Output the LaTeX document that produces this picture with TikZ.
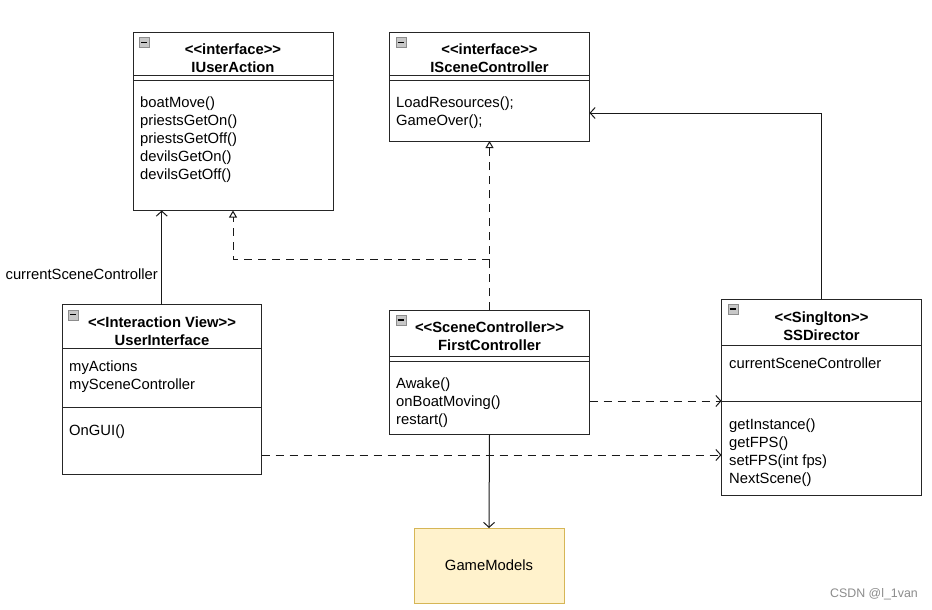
\documentclass[tikz,border=0pt]{standalone}
\usepackage{fontspec}
\setmainfont{Liberation Sans}[Ligatures=ResetAll]
\usetikzlibrary{arrows.meta}
\definecolor{gmfill}{HTML}{FFF2CC}
\definecolor{gmline}{HTML}{D6B656}
\newcommand{\lt}{{<}{<}}
\newcommand{\gtt}{{>}{>}}
\begin{document}
\begin{tikzpicture}[x=1pt,y=-1pt,
  umlbox/.style={draw=black!85, line width=1pt, anchor=north west, inner sep=0pt, outer sep=0pt},
  sep/.style={draw=black!85, line width=1pt},
  hdr/.style={font=\fontsize{14.8}{18}\selectfont\bfseries, align=center, inner sep=0pt},
  mem/.style={font=\fontsize{14.8}{18}\selectfont, align=left, anchor=west, inner sep=0pt},
  lbl/.style={font=\fontsize{14.8}{18}\selectfont, inner sep=0pt},
  assoc/.style={draw=black!90, line width=1pt, -{Straight Barb[length=5pt,width=11pt]}},
  real/.style={draw=black!90, line width=1pt, dash pattern=on 8pt off 6pt, -{Triangle[open,length=7pt,width=8pt]}},
  dep/.style={draw=black!90, line width=1pt, dash pattern=on 8pt off 6pt, -{Straight Barb[length=5pt,width=11pt]}},
  icon/.style={draw=black!45, fill=black!22, line width=0.6pt, minimum size=10pt, inner sep=0pt, anchor=north west}
]
\useasboundingbox[fill=white] (0,0) rectangle (932,610);

% ---------- IUserAction ----------
\node[umlbox, minimum width=200pt, minimum height=178pt] (iua) at (133,32.5) {};
\node[icon] (iuaicon) at (139,37.5) {};
\draw[line width=1.2pt] (141,42.5) -- (147,42.5);
\node[hdr] (iuahdr) at (233,58) {\lt interface\gtt\\IUserAction};
\draw[sep] (133,76) -- (333,76);
\draw[sep] (133,80.5) -- (333,80.5);
\node[mem] (iuam) at (140,140) {boatMove()\\priestsGetOn()\\priestsGetOff()\\devilsGetOn()\\devilsGetOff()};

% ---------- ISceneController ----------
\node[umlbox, minimum width=200pt, minimum height=108.5pt] (isc) at (389.5,32.5) {};
\node[icon] (iscicon) at (395.5,37.5) {};
\draw[line width=1.2pt] (397.5,42.5) -- (403.5,42.5);
\node[hdr] (ischdr) at (489.5,58) {\lt interface\gtt\\ISceneController};
\draw[sep] (389.5,76) -- (589.5,76);
\draw[sep] (389.5,80.5) -- (589.5,80.5);
\node[mem] (iscm) at (396,113) {LoadResources();\\GameOver();};

% ---------- UserInterface ----------
\node[umlbox, minimum width=199.5pt, minimum height=169.5pt] (ui) at (62,304.5) {};
\node[icon] (uiicon) at (68,309.5) {};
\draw[line width=1.2pt] (70,314.5) -- (76,314.5);
\node[hdr] (uihdr) at (162,331) {\lt Interaction View\gtt\\UserInterface};
\draw[sep] (62,348.5) -- (261.5,348.5);
\node[mem] (uiattr) at (69,377) {myActions\\mySceneController};
\draw[sep] (62,407.5) -- (261.5,407.5);
\node[mem] (uim) at (69,432) {OnGUI()};

% ---------- FirstController ----------
\node[umlbox, minimum width=200pt, minimum height=124.5pt] (fc) at (389.5,310) {};
\node[icon] (fcicon) at (395.5,315) {};
\draw[line width=1.2pt] (397.5,320) -- (403.5,320);
\node[hdr] (fchdr) at (489.5,336) {\lt SceneController\gtt\\FirstController};
\draw[sep] (389.5,356.5) -- (589.5,356.5);
\draw[sep] (389.5,361) -- (589.5,361);
\node[mem] (fcm) at (396,403) {Awake()\\onBoatMoving()\\restart()};

% ---------- SSDirector ----------
\node[umlbox, minimum width=200pt, minimum height=196pt] (ssd) at (721.5,299) {};
\node[icon] (ssdicon) at (727.5,304) {};
\draw[line width=1.2pt] (729.5,309) -- (735.5,309);
\node[hdr] (ssdhdr) at (821.5,326) {\lt Singlton\gtt\\SSDirector};
\draw[sep] (721.5,345) -- (921.5,345);
\node[mem] (ssdattr) at (729,363) {currentSceneController};
\draw[sep] (721.5,401) -- (921.5,401);
\node[mem] (ssdm) at (729,453) {getInstance()\\getFPS()\\setFPS(int fps)\\NextScene()};

% ---------- GameModels ----------
\node[draw=gmline, fill=gmfill, line width=1pt, minimum width=150pt, minimum height=75pt, anchor=north west, inner sep=0pt, outer sep=0pt, font=\fontsize{14.8}{18}\selectfont] (gm) at (414,528) {GameModels};

% ---------- connectors ----------
\draw[assoc] (ui.north) -- (ui.north |- iua.south);
\node[lbl, anchor=east] (lblcsc) at (158,274) {currentSceneController};

\draw[real] (fc.north) -- (fc.north |- isc.south);
\coordinate (j1) at (489.5,259);
\draw[real] (j1) -| (iua.south);

\coordinate (iscr) at (589.5,113);
\draw[assoc] (ssd.north) |- (iscr);

\coordinate (fcr) at (589.5,401);
\draw[dep] (fcr) -- (ssd.west |- fcr);
\coordinate (uir) at (261.5,455);
\draw[dep] (uir) -- (ssd.west |- uir);

\draw[assoc] (fc.south) -- (gm.north);

% ---------- watermark ----------
\node[font=\fontsize{12.4}{14}\selectfont, text=black!45, inner sep=0pt] (wm) at (874,594) {CSDN @l\_1van};
\end{tikzpicture}
\end{document}
